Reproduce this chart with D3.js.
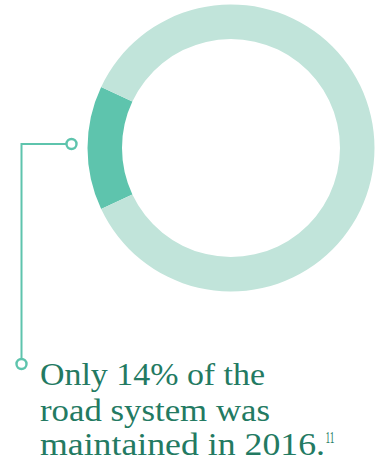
<!DOCTYPE html>
<html>
<head>
<meta charset="utf-8">
<script src="https://cdn.jsdelivr.net/npm/d3@7"></script>
<style>
  html, body { margin: 0; padding: 0; background: #fff; }
  svg { display: block; }
</style>
</head>
<body>
<svg id="chart" width="380" height="460"></svg>
<script>
// Share of the road system maintained in 2016
const categories = ["Maintained", "Not maintained"];
const shares = [14, 86];
const colors = ["#5ec4ad", "#c1e4da"];
const captionLines = ["Only 14% of the", "road system was", "maintained in 2016."];
const footnote = "11";

const svg = d3.select("#chart");

const cx = 231, cy = 148;
const outerR = 143.5, innerR = 109;

// Centre the highlighted slice on the left-hand side of the ring
const maintainedAngle = shares[0] / d3.sum(shares) * 2 * Math.PI;
const start = -Math.PI / 2 - maintainedAngle / 2;

const pie = d3.pie()
  .value(d => d)
  .sort(null)
  .startAngle(start)
  .endAngle(start + 2 * Math.PI);

const arc = d3.arc().innerRadius(innerR).outerRadius(outerR);

const color = d3.scaleOrdinal().domain(categories).range(colors);

svg.append("g")
  .attr("transform", `translate(${cx},${cy})`)
  .selectAll("path")
  .data(pie(shares))
  .join("path")
  .attr("d", arc)
  .attr("fill", (d, i) => color(categories[i]));

// Connector from the ring to the caption
const lineColor = "#5ec4ad";
const connector = svg.append("g")
  .attr("fill", "none")
  .attr("stroke", lineColor)
  .attr("stroke-width", 2);

const topDot = [71.5, 144], corner = 21.5, bottomDot = [21.5, 364];
connector.append("path")
  .attr("d", `M${topDot[0] - 5},${topDot[1]} H${corner} V${bottomDot[1] - 5}`);
connector.append("circle").attr("cx", topDot[0]).attr("cy", topDot[1]).attr("r", 5)
  .attr("stroke-width", 2.4).attr("fill", "#fff");
connector.append("circle").attr("cx", bottomDot[0]).attr("cy", bottomDot[1]).attr("r", 5)
  .attr("stroke-width", 2.4).attr("fill", "#fff");

// Caption
const text = svg.append("g")
  .attr("font-family", "'Liberation Serif', 'Times New Roman', serif")
  .attr("fill", "#237a62");

const baselines = [384.5, 420.5, 455];
const widths = [225, 230, 285];
captionLines.forEach((line, i) => {
  text.append("text")
    .attr("x", 40)
    .attr("y", baselines[i])
    .attr("font-size", 32)
    .attr("textLength", widths[i])
    .attr("lengthAdjust", "spacingAndGlyphs")
    .text(line);
});

// Footnote marker
text.append("text")
  .attr("x", 325.5)
  .attr("y", 443)
  .attr("font-size", 17)
  .attr("textLength", 9)
  .attr("lengthAdjust", "spacingAndGlyphs")
  .text(footnote);
</script>
</body>
</html>
